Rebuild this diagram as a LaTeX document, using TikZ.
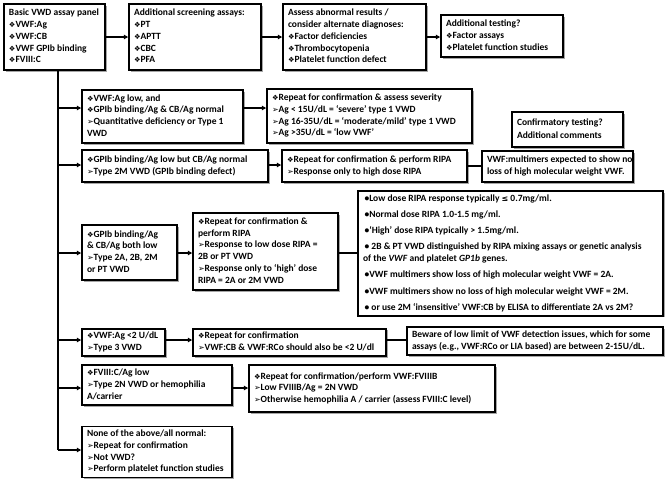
\documentclass[tikz,border=0pt]{standalone}
\usepackage{fontspec}
\setmainfont{Carlito}
\newfontfamily\symf{DejaVu Sans}
\usetikzlibrary{arrows.meta,shadows}
\newcommand\dmd{{\symf\fontsize{7.3}{7.3}\selectfont ❖}}
\newcommand\arw{{\symf\fontsize{8}{8}\selectfont ➢}}
\newcommand\leqs{{\symf\fontsize{8}{8}\selectfont ≤}}
\tikzset{
  box/.style={draw, line width=1.5pt, fill=white, inner xsep=5pt, inner ysep=2pt,
    font=\fontsize{9.5}{11.7}\selectfont\bfseries,
    drop shadow={shadow xshift=1.6pt, shadow yshift=-1.6pt, fill=black, opacity=0.35}},
  conn/.style={line width=1.3pt},
  arr/.style={conn, -{Triangle[length=4.5pt,width=4.5pt]}}
}
\newcommand\bx[6]{%
  \pgfmathsetmacro\bxw{#4-#2}%
  \pgfmathsetmacro\bxh{#5-#3}%
  \pgfmathsetmacro\bxt{#4-#2-10}%
  \node[box, minimum width=\bxw pt, minimum height=\bxh pt] (#1) at ({(#2+#4)/2},{(#3+#5)/2})
    {\makebox[\bxt pt][l]{\begin{tabular}{@{}l@{}}#6\end{tabular}}};}
\begin{document}
\begin{tikzpicture}[x=1pt,y=-1pt]
\useasboundingbox (0,0) rectangle (670,480);
% top row
\bx{b1}{4}{4}{105}{70}{Basic VWD assay panel\\\dmd VWF:Ag\\\dmd VWF:CB\\\dmd VWF GPIb binding\\\dmd FVIII:C}
\bx{b2}{129}{4}{261}{70}{Additional screening assays:\\\dmd PT\\\dmd APTT\\\dmd CBC\\\dmd PFA}
\bx{b3}{283}{4}{426}{70}{Assess abnormal results /\\consider alternate diagnoses:\\\dmd Factor deficiencies\\\dmd Thrombocytopenia\\\dmd Platelet function defect}
\bx{b4}{441}{15}{563}{57}{Additional testing?\\\dmd Factor assays\\\dmd Platelet function studies}
% row 1
\bx{r1a}{82}{90}{243}{143}{\dmd VWF:Ag low, and\\\dmd GPIb binding/Ag \& CB/Ag normal\\\arw Quantitative deficiency or Type 1\\VWD}
\bx{r1b}{267}{89}{472}{143}{\dmd Repeat for confirmation \& assess severity\\\arw Ag < 15U/dL = ‘severe’ type 1 VWD\\\arw Ag 16-35U/dL = ‘moderate/mild’ type 1 VWD\\\arw Ag >35U/dL = ‘low VWF’}
\bx{conf}{512}{112}{623}{147}{Confirmatory testing?\\[1pt]Additional comments}
% row 2
\bx{r2a}{82}{150}{268}{182}{\dmd GPIb binding/Ag low but CB/Ag normal\\\arw Type 2M VWD (GPIb binding defect)}
\bx{r2b}{282}{150}{467}{182}{\dmd Repeat for confirmation \& perform RIPA\\\arw Response only to high dose RIPA}
\bx{r2c}{482}{151}{633}{182}{VWF:multimers expected to show no\\loss of high molecular weight VWF.}
% row 3
\bx{r3a}{82}{225}{177}{280}{\dmd GPIb binding/Ag\\\& CB/Ag both low\\\arw Type 2A, 2B, 2M\\or PT VWD}
\bx{r3b}{193}{213}{338}{290}{\dmd Repeat for confirmation \&\\perform RIPA\\\arw Response to low dose RIPA =\\2B or PT VWD\\\arw Response only to ‘high’ dose\\RIPA = 2A or 2M VWD}
\bx{r3c}{358}{192}{663}{315}{\,•Low dose RIPA response typically \leqs\ 0.7mg/ml.\\[4.5pt]\,•Normal dose RIPA 1.0-1.5 mg/ml.\\[4.5pt]\,•‘High’ dose RIPA typically > 1.5mg/ml.\\[4.5pt]\,• 2B \& PT VWD distinguished by RIPA mixing assays or genetic analysis\\of the \textit{VWF} and platelet \textit{GP1b} genes.\\[4.5pt]\,•VWF multimers show loss of high molecular weight VWF = 2A.\\[4.5pt]\,•VWF multimers show no loss of high molecular weight VWF = 2M.\\[4.5pt]\,• or use 2M ‘insensitive’ VWF:CB by ELISA to differentiate 2A vs 2M?}
% row 4
\bx{r4a}{82}{330}{165}{355}{\dmd VWF:Ag <2 U/dL\\\arw Type 3 VWD}
\bx{r4b}{193}{330}{386}{355}{\dmd Repeat for confirmation\\\arw VWF:CB \& VWF:RCo should also be <2 U/dl}
\bx{r4c}{407}{327}{663}{355}{Beware of low limit of VWF detection issues, which for some\\assays (e.g., VWF:RCo or LIA based) are between 2-15U/dL.}
% row 5
\bx{r5a}{82}{365}{232}{405}{\dmd FVIII:C/Ag low\\\arw Type 2N VWD or hemophilia\\A/carrier}
\bx{r5b}{249}{365}{495}{412}{\dmd Repeat for confirmation/perform VWF:FVIIIB\\\arw Low FVIIIB/Ag = 2N VWD\\\arw Otherwise hemophilia A / carrier (assess FVIII:C level)}
% row 6
\bx{r6}{82}{429}{232}{475}{None of the above/all normal:\\\arw Repeat for confirmation\\\arw Not VWD?\\\arw Perform platelet function studies}
% trunk coordinates
\coordinate (t1) at (58,108);
\coordinate (t2) at (58,165);
\coordinate (t3) at (58,253);
\coordinate (t4) at (58,340);
\coordinate (t5) at (58,388);
\coordinate (t6) at (58,450);
% connectors
\draw[arr] (b1.east |- 0,37) -- (b2.west |- 0,37);
\draw[arr] (b2.east |- 0,37) -- (b3.west |- 0,37);
\draw[arr] (b3.east |- 0,37) -- (b4.west |- 0,37);
\draw[conn] (b1.south -| t6) -- (t6);
\draw[arr] (t1) -- (t1 -| r1a.west);
\draw[arr] (r1a.east |- t1) -- (r1b.west |- t1);
\draw[arr] (t2) -- (t2 -| r2a.west);
\draw[arr] (r2a.east |- t2) -- (r2b.west |- t2);
\draw[conn] (r2b.east |- 0,166) -- (r2c.west |- 0,166);
\draw[arr] (t3) -- (t3 -| r3a.west);
\draw[arr] (r3a.east |- t3) -- (r3b.west |- t3);
\draw[conn] (r3b.east |- t3) -- (r3c.west |- t3);
\draw[arr] (t4) -- (t4 -| r4a.west);
\draw[arr] (r4a.east |- t4) -- (r4b.west |- t4);
\draw[conn] (r4b.east |- t4) -- (r4c.west |- t4);
\draw[arr] (t5) -- (t5 -| r5a.west);
\draw[arr] (r5a.east |- t5) -- (r5b.west |- t5);
\draw[arr] (t6) -- (t6 -| r6.west);
\end{tikzpicture}
\end{document}
